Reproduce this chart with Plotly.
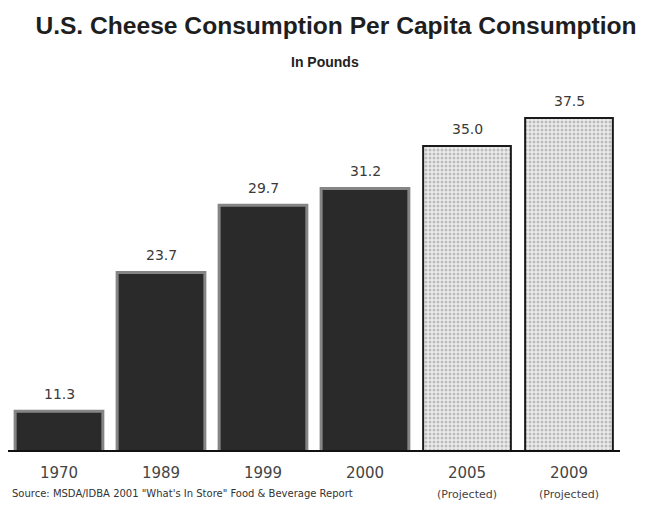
import plotly.graph_objects as go

years = ["1970", "1989", "1999", "2000", "2005", "2009"]
tick_labels = ["1970", "1989", "1999", "2000",
               "2005<br><span style='font-size:11px'>(Projected)</span>",
               "2009<br><span style='font-size:11px'>(Projected)</span>"]
values = [11.3, 23.7, 29.7, 31.2, 35.0, 37.5]
projected = [False, False, False, False, True, True]

actual_x = [y for y, p in zip(years, projected) if not p]
actual_v = [v for v, p in zip(values, projected) if not p]
proj_x = [y for y, p in zip(years, projected) if p]
proj_v = [v for v, p in zip(values, projected) if p]

# The page body has an 8px margin, so figure coords = page coords - 8
W, H = 645, 511
L, R, T, B = 0, 33, 92, 69
plot_w = W - L - R
plot_h = H - T - B

fig = go.Figure()
fig.add_trace(go.Bar(
    x=actual_x, y=actual_v,
    marker=dict(color="#2a2a2a", line=dict(color="#858585", width=3)),
    showlegend=False, hoverinfo="x+y",
))
fig.add_trace(go.Bar(
    x=proj_x, y=proj_v,
    marker=dict(color="#e6e6e6", line=dict(color="#1a1a1a", width=2),
                pattern=dict(shape=".", fgcolor="#8c8c8c", bgcolor="#ececec",
                             size=4, solidity=0.45)),
    showlegend=False, hoverinfo="x+y",
))

# value labels: x given as category index so the category axis is not extended
annotations = [
    dict(x=i, y=v, xref="x", yref="y", text=f"{v:.1f}", showarrow=False,
         yanchor="bottom", yshift=7,
         font=dict(size=14, color="#3a3a3a", family="DejaVu Sans"))
    for i, v in enumerate(values)
]
annotations += [
    dict(text="<b>In Pounds</b>", x=317 / plot_w, xanchor="center",
         y=1 + (T - 54) / plot_h, yanchor="middle",
         xref="paper", yref="paper", showarrow=False,
         font=dict(size=14, color="#222222", family="Liberation Sans")),
    dict(text="Source: MSDA/IDBA 2001 \"What's In Store\" Food & Beverage Report",
         x=2 / plot_w, xanchor="left", y=-43 / plot_h, yanchor="middle",
         xref="paper", yref="paper", showarrow=False,
         font=dict(size=10, color="#333333", family="DejaVu Sans")),
]

fig.update_layout(
    width=W, height=H,
    margin=dict(l=L, r=R, t=T, b=B),
    paper_bgcolor="white", plot_bgcolor="white",
    barmode="overlay", bargap=0.14,
    font=dict(family="DejaVu Sans", color="#333333"),
    title=dict(text="<b>U.S. Cheese Consumption Per Capita Consumption</b>",
               x=328 / W, xanchor="center", y=1 - 17.5 / H, yanchor="middle",
               font=dict(size=24.6, color="#1e1e1e", family="Liberation Sans")),
    xaxis=dict(type="category", categoryorder="array", categoryarray=years,
               range=[-0.5, len(years) - 0.5], automargin=False,
               tickmode="array", tickvals=years, ticktext=tick_labels,
               tickangle=0,
               showline=True, linecolor="#111111", linewidth=2,
               ticks="outside", ticklen=8, tickcolor="rgba(0,0,0,0)",
               tickfont=dict(size=15, color="#444444", family="DejaVu Sans")),
    yaxis=dict(range=[7.85, 39.1], visible=False, showgrid=False, automargin=False),
    annotations=annotations,
)

fig.write_html("out.html")
